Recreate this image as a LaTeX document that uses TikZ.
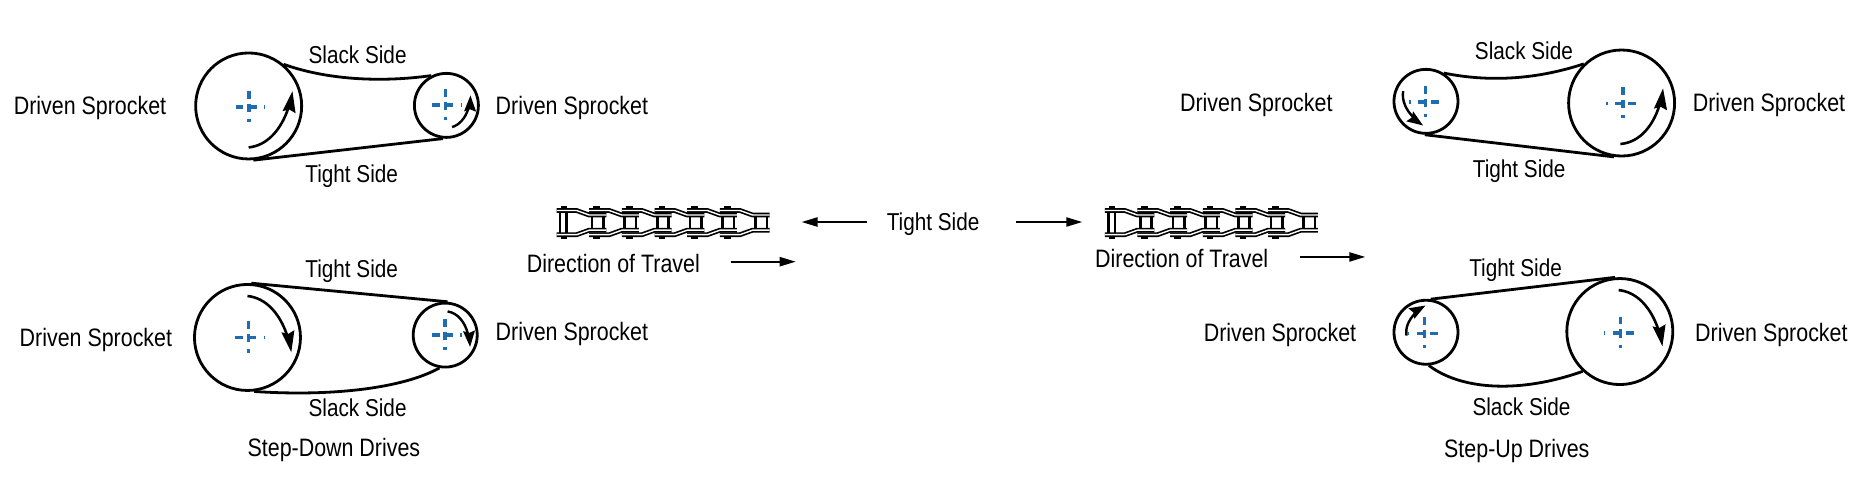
\documentclass[tikz,border=0pt]{standalone}
\usepackage{fontspec}
\setmainfont[FakeStretch=0.85]{Liberation Sans}
\usetikzlibrary{arrows.meta,bending}
\definecolor{centreblue}{HTML}{1F6CB0}
\tikzset{
  x=0.592pt,y=-0.592pt,
  label text/.style={font=\fontsize{12.6}{14}\selectfont,text=black,inner sep=0pt},
  short text/.style={label text,font=\fontsize{12.2}{14}\selectfont},
  bigwheel/.style={circle,draw=black,line width=1.4pt,minimum size=53pt,inner sep=0pt},
  smallwheel/.style={circle,draw=black,line width=1.4pt,minimum size=32pt,inner sep=0pt},
  belt/.style={line width=1.4pt,black},
  turn/.style={line width=1.3pt,black,-{Stealth[length=10.5pt,width=6.4pt,inset=1.2pt,flex=0]}},
  turnsmall/.style={line width=1.2pt,black,-{Stealth[length=8pt,width=5.8pt,inset=1pt,flex=0]}},
  travel/.style={line width=0.9pt,black,-{Stealth[length=8pt,width=4.6pt,inset=0pt]}},
  axis/.style={line width=1.8pt,centreblue},
  plate/.style={line width=0.85pt,black,double=white,double distance=0.7pt},
  pinline/.style={line width=1.3pt,black},
}
% centre mark: #3 = 1 puts the dot on the right, -1 on the left
\newcommand{\crosshair}[3]{%
  \draw[axis] (#1-11.3*#3,#2)--(#1-4.8*#3,#2) (#1-1.1*#3,#2)--(#1+6.5*#3,#2) (#1+12.7*#3,#2)--(#1+13.8*#3,#2)
     (#1,#2-13.5)--(#1,#2-7) (#1,#2-2.8)--(#1,#2+4.2) (#1,#2+10)--(#1,#2+12.7);}
\newcommand{\chain}[2]{%
  \draw[pinline] (#1+3,#2+3.8)--(#1+3,#2+24.2) (#1+8.6,#2+3.8)--(#1+8.6,#2+24.2);
  \foreach \i in {1,...,6}{
    \pgfmathsetmacro{\xr}{#1+\i*27.6}
    \draw[pinline] (\xr+2.4,#2+7.6)--(\xr+2.4,#2+20.4) (\xr+12,#2+7.6)--(\xr+12,#2+20.4);
  }
  \foreach \i in {0,...,5}{
    \pgfmathsetmacro{\xa}{#1+\i*27.6}
    \pgfmathsetmacro{\xb}{\xa+17}
    \pgfmathsetmacro{\xc}{\xa+27.6}
    \pgfmathsetmacro{\xd}{\xa+42}
    \pgfmathsetmacro{\xp}{\xa+6.2}
    \fill[black] (\xp-2.8,#2) rectangle (\xp+2.8,#2+2);
    \fill[black] (\xp-2.8,#2+26) rectangle (\xp+2.8,#2+28);
    \draw[plate] (\xa,#2+3.8)--(\xb,#2+3.8)--(\xc,#2+7.6)--(\xd,#2+7.6);
    \draw[plate] (\xa,#2+24.2)--(\xb,#2+24.2)--(\xc,#2+20.4)--(\xd,#2+20.4);
  }}
\begin{document}
\begin{tikzpicture}
\useasboundingbox (0,0) rectangle (1570,413);
% top-left
\node[bigwheel] (tlb) at (210,89.5) {};
\node[smallwheel] (tls) at (377,89) {};
\draw[belt] (tlb.50) .. controls (275,67) and (320,70) .. (tls.117);
\draw[belt] (tlb.-85) -- (tls.-96);
\draw[turn] ([shift={(0,35)}]tlb.center) .. controls ([shift={(20,33)}]tlb.center) and ([shift={(33,12)}]tlb.center) .. ([shift={(37,-12.5)}]tlb.center);
\draw[turnsmall] ([shift={(4.8,18.3)}]tls.center) .. controls ([shift={(13,16)}]tls.center) and ([shift={(20,6)}]tls.center) .. ([shift={(20.3,-8.5)}]tls.center);
\crosshair{210.3}{90.5}{1}\crosshair{376.4}{88.7}{1}
% bottom-left
\node[bigwheel] (blb) at (209,285) {};
\node[smallwheel] (bls) at (376,283) {};
\draw[belt] (blb.86) -- (bls.86);
\draw[belt] (blb.-83) .. controls (280,335) and (340,328) .. (bls.-100);
\draw[turn] ([shift={(0,-35)}]blb.center) .. controls ([shift={(20,-33)}]blb.center) and ([shift={(33,-12)}]blb.center) .. ([shift={(37,12.5)}]blb.center);
\draw[turnsmall] ([shift={(2,-20)}]bls.center) .. controls ([shift={(14,-18)}]bls.center) and ([shift={(20,-5)}]bls.center) .. ([shift={(21,10)}]bls.center);
\crosshair{210}{285}{1}\crosshair{376}{283}{1}
% top-right
\node[smallwheel] (trs) at (1204.3,85.6) {};
\node[bigwheel] (trb) at (1369.5,87) {};
\draw[belt] (trs.58) .. controls (1255,69) and (1295,68) .. (trb.134);
\draw[belt] (trs.-92) -- (trb.-98);
\draw[turnsmall] ([shift={(-19.3,-8.6)}]trs.center) .. controls ([shift={(-21,2)}]trs.center) and ([shift={(-14,12.5)}]trs.center) .. ([shift={(-2.4,20.4)}]trs.center);
\draw[turn] ([shift={(-1,34.6)}]trb.center) .. controls ([shift={(19,33)}]trb.center) and ([shift={(32,12)}]trb.center) .. ([shift={(35,-12.4)}]trb.center);
\crosshair{1204}{86}{-1}\crosshair{1370.5}{87.3}{-1}
% bottom-right
\node[smallwheel] (brs) at (1204.3,280.6) {};
\node[bigwheel] (brb) at (1368,280) {};
\draw[belt] (brs.82) -- (brb.95);
\draw[belt] (brs.-85) .. controls (1235,330) and (1285,332) .. (brb.-133);
\draw[turnsmall] ([shift={(-16.5,2.8)}]brs.center) .. controls ([shift={(-18,-6)}]brs.center) and ([shift={(-12,-16)}]brs.center) .. ([shift={(-0.4,-22.6)}]brs.center);
\draw[turn] ([shift={(-1,-35)}]brb.center) .. controls ([shift={(19,-33)}]brb.center) and ([shift={(32,-12)}]brb.center) .. ([shift={(36,12.5)}]brb.center);
\crosshair{1203}{281.5}{-1}\crosshair{1368.5}{281}{-1}
% chains
\chain{470}{174}
\chain{933}{174}
% labels
\node[label text] (t1) at (76,91) {Driven Sprocket};
\node[label text] (t2) at (483,91) {Driven Sprocket};
\node[label text] (t3) at (81,287) {Driven Sprocket};
\node[label text] (t4) at (483,282) {Driven Sprocket};
\node[label text] (t5) at (1061,89) {Driven Sprocket};
\node[label text] (t6) at (1494,89) {Driven Sprocket};
\node[label text] (t7) at (1081,283) {Driven Sprocket};
\node[label text] (t8) at (1496,283) {Driven Sprocket};
\node[short text] (s1) at (302,46.5) {Slack Side};
\node[short text] (s2) at (297,149) {Tight Side};
\node[short text] (s3) at (297,229) {Tight Side};
\node[short text] (s4) at (302,344.5) {Slack Side};
\node[short text] (s5) at (1287,42.5) {Slack Side};
\node[short text] (s6) at (1283,145) {Tight Side};
\node[short text] (s7) at (1280,228) {Tight Side};
\node[short text] (s8) at (1285,343.5) {Slack Side};
\node[label text] (d1) at (282,380) {Step-Down Drives};
\node[label text] (d2) at (1281,381) {Step-Up Drives};
\node[short text] (m) at (788,189) {Tight Side};
\node[label text] (dt1) at (518,222.5) {Direction of Travel};
\node[label text] (dt2) at (998,218.5) {Direction of Travel};
\coordinate (a0) at (732,187.5); \coordinate (a1) at (677,187.5);
\coordinate (b0) at (858,187.5); \coordinate (a2) at (914,187.5);
\coordinate (a3) at (617,221); \coordinate (a4) at (672,221);
\coordinate (a5) at (1098,217); \coordinate (a6) at (1153,217);
\draw[travel] (a0) -- (a1);
\draw[travel] (b0) -- (a2);
\draw[travel] (a3) -- (a4);
\draw[travel] (a5) -- (a6);
\end{tikzpicture}
\end{document}
